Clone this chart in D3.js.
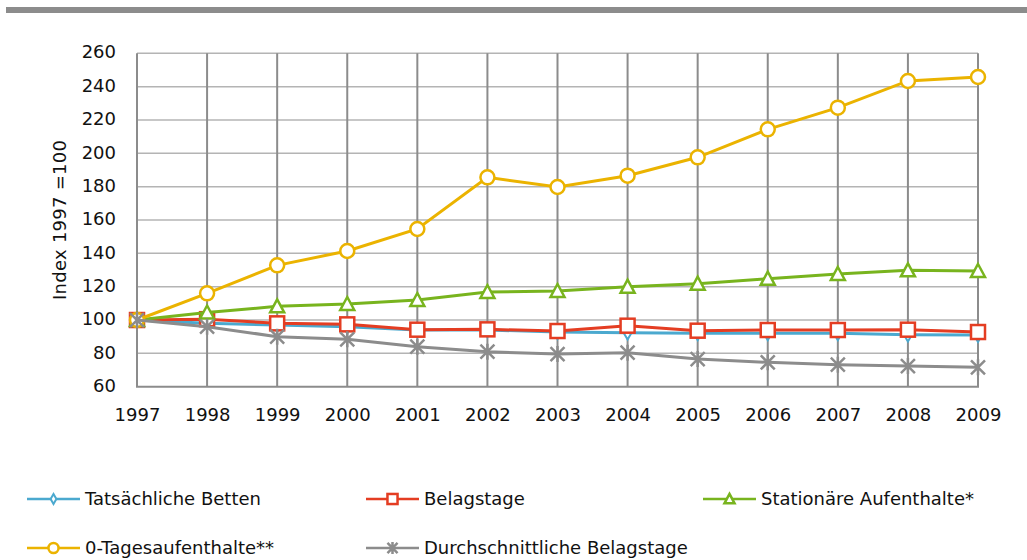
<!DOCTYPE html>
<html>
<head>
<meta charset="utf-8">
<script src="https://cdn.jsdelivr.net/npm/d3@7"></script>
<style>
  body { margin: 0; background: #fff; }
  text { font-family: "DejaVu Sans", sans-serif; fill: #111; }
</style>
</head>
<body>
<svg id="chart" width="1027" height="560"></svg>
<script>
var years = [1997, 1998, 1999, 2000, 2001, 2002, 2003, 2004, 2005, 2006, 2007, 2008, 2009]
var yTicks = [60, 80, 100, 120, 140, 160, 180, 200, 220, 240, 260]

var betten = [100, 98, 97, 96, 94, 94, 92.8, 92.4, 92, 92, 92, 91.2, 91]
var belagstage = [100, 100.5, 98, 97.4, 94.2, 94.4, 93.4, 96.6, 93.6, 94, 94, 94.2, 92.8]
var stationaer = [100, 104.5, 108.2, 109.6, 112, 116.8, 117.4, 120, 121.8, 124.8, 127.6, 129.8, 129.4]
var nullTage = [100, 116, 132.8, 141.4, 154.6, 185.6, 179.8, 186.6, 197.6, 214.4, 227.4, 243.4, 245.8]
var durchschnitt = [100, 96, 90, 88.4, 84, 81, 79.6, 80.4, 76.6, 74.6, 73.2, 72.4, 71.6]

var seriesNames = ["Tatsächliche Betten", "Belagstage", "Stationäre Aufenthalte*", "0-Tagesaufenthalte**", "Durchschnittliche Belagstage"]
var seriesValues = [betten, belagstage, stationaer, nullTage, durchschnitt]
var seriesColors = ["#4ba9cf", "#e43d22", "#78b41e", "#ebb300", "#8c8c8c"]
var seriesMarkers = ["diamond", "square", "triangle", "circle", "star"]

var svg = d3.select("#chart")

// grey band across the top
svg.append("rect")
  .attr("x", 6).attr("y", 7)
  .attr("width", 1021).attr("height", 6)
  .attr("fill", "#8c8c8c")

var x = d3.scalePoint().domain(years).range([137, 978])
var y = d3.scaleLinear().domain([60, 260]).range([386.7, 53.3])

var grid = svg.append("g")

// horizontal grid
grid.selectAll(".hgrid")
  .data(yTicks.slice(1))
  .enter().append("line")
  .attr("x1", x(1997)).attr("x2", x(2009))
  .attr("y1", d => y(d)).attr("y2", d => y(d))
  .attr("stroke", "#b4b4b4")
  .attr("stroke-width", 1.5)

// vertical grid
grid.selectAll(".vgrid")
  .data(years)
  .enter().append("line")
  .attr("x1", d => x(d)).attr("x2", d => x(d))
  .attr("y1", y(260)).attr("y2", y(60))
  .attr("stroke", "#8c8c8c")
  .attr("stroke-width", 2)

// bottom axis line
grid.append("line")
  .attr("x1", x(1997) - 1).attr("x2", x(2009) + 1)
  .attr("y1", y(60)).attr("y2", y(60))
  .attr("stroke", "#8c8c8c")
  .attr("stroke-width", 2)

// y tick labels
var yAxis = d3.axisLeft(y).tickValues(yTicks).tickSize(0).tickPadding(0)
var gy = svg.append("g").attr("transform", "translate(116,0)").call(yAxis)
gy.select(".domain").remove()
gy.selectAll("text")
  .attr("font-size", 18)
  .attr("font-family", "DejaVu Sans")
  .attr("fill", "#111")
  .attr("dy", "0.26em")

// x tick labels
var xAxis = d3.axisBottom(x).tickSize(0).tickPadding(0)
var gx = svg.append("g").attr("transform", "translate(0,421)").call(xAxis)
gx.select(".domain").remove()
gx.selectAll("text")
  .attr("font-size", 18)
  .attr("font-family", "DejaVu Sans")
  .attr("fill", "#111")
  .attr("dy", 0)

// y axis title
svg.append("text")
  .attr("transform", "translate(66,220) rotate(-90)")
  .attr("text-anchor", "middle")
  .attr("font-size", 18)
  .attr("textLength", 160)
  .attr("lengthAdjust", "spacing")
  .text("Index 1997 =100")

function drawMarker(g, type, color, cx, cy, k) {
  if (type == "diamond") {
    g.append("path")
      .attr("d", d3.symbol(d3.symbolDiamond, 55 * k * k)())
      .attr("transform", "translate(" + cx + "," + cy + ")")
      .attr("fill", "#fff").attr("stroke", color).attr("stroke-width", 2)
  } else if (type == "square") {
    g.append("rect")
      .attr("x", cx - 7 * k).attr("y", cy - 7 * k)
      .attr("width", 14 * k).attr("height", 14 * k)
      .attr("fill", "#fff").attr("stroke", color).attr("stroke-width", 2.5)
  } else if (type == "triangle") {
    g.append("path")
      .attr("d", "M0," + (-7 * k) + "L" + (7 * k) + "," + (6 * k) + "L" + (-7 * k) + "," + (6 * k) + "Z")
      .attr("transform", "translate(" + cx + "," + cy + ")")
      .attr("fill", "#fff").attr("stroke", color).attr("stroke-width", 2.5)
  } else if (type == "circle") {
    g.append("circle")
      .attr("cx", cx).attr("cy", cy).attr("r", 7 * k)
      .attr("fill", "#fff").attr("stroke", color).attr("stroke-width", 2.5)
  } else {
    var s = 7 * k
    g.append("path")
      .attr("d", "M" + (-s) + "," + (-s) + "L" + s + "," + s + "M" + (-s) + "," + s + "L" + s + "," + (-s) + "M0," + (-s - 1) + "L0," + (s + 1))
      .attr("transform", "translate(" + cx + "," + cy + ")")
      .attr("fill", "none").attr("stroke", color).attr("stroke-width", 2.5)
  }
}

var line = d3.line().x((d, i) => x(years[i])).y(d => y(d))

seriesValues.forEach(function (vals, s) {
  var g = svg.append("g")
  g.append("path")
    .attr("d", line(vals))
    .attr("fill", "none")
    .attr("stroke", seriesColors[s])
    .attr("stroke-width", 3)
  vals.forEach(function (v, i) {
    drawMarker(g, seriesMarkers[s], seriesColors[s], x(years[i]), y(v), 1)
  })
})

// legend
var legendPos = [[27, 499], [366, 499], [703, 499], [27, 548], [366, 548]]
var legend = svg.append("g")
seriesNames.forEach(function (name, s) {
  var lx = legendPos[s][0], ly = legendPos[s][1]
  legend.append("line")
    .attr("x1", lx).attr("x2", lx + 53)
    .attr("y1", ly).attr("y2", ly)
    .attr("stroke", seriesColors[s]).attr("stroke-width", 2.5)
  drawMarker(legend, seriesMarkers[s], seriesColors[s], lx + 26.5, ly, 0.72)
  legend.append("text")
    .attr("x", lx + 58).attr("y", ly + 6)
    .attr("font-size", 18)
    .text(name)
})
</script>
</body>
</html>
